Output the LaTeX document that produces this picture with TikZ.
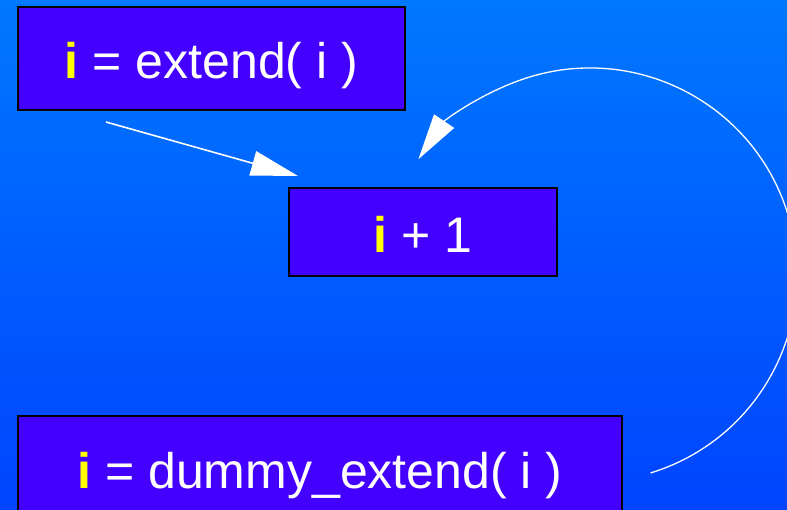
\documentclass[tikz,border=0pt]{standalone}
\usepackage{fontspec}
\setmainfont{Liberation Sans}
\usetikzlibrary{arrows.meta,calc}
\definecolor{bgtop}{RGB}{0,120,255}
\definecolor{bgbot}{RGB}{0,68,255}
\definecolor{boxfill}{RGB}{68,0,255}
\definecolor{ivar}{RGB}{255,255,0}
\newcommand{\ivar}{\textcolor{ivar}{\bfseries i}}
\tikzset{
  codebox/.style={draw=black, line width=1.5pt, fill=boxfill, text=white, inner sep=0pt,
    text height=40pt, text depth=0pt,
    font=\fontsize{50}{58}\selectfont},
  flow/.style={draw=white, line width=1.6pt, -{Triangle[length=47pt,width=25pt]}},
  loopflow/.style={draw=white, line width=1.3pt, -{Triangle[length=46pt,width=24pt]}}
}
\begin{document}
\begin{tikzpicture}[x=1pt,y=1pt]
\useasboundingbox (0,0) rectangle (787,-509);
\clip (0,0) rectangle (787,-509);
\shade[top color=bgtop, bottom color=bgbot] (0,0) rectangle (787,-509);

\node[codebox, minimum width=387pt, minimum height=103pt] (ext) at (211.5,-58.5) {\ivar\ = extend( i )};
\node[codebox, minimum width=268pt, minimum height=88pt] (inc) at (423,-232) {\ivar\ + 1};
\node[codebox, minimum width=604pt, minimum height=104pt] (dum) at (320,-468) {\ivar\ = dummy\_extend( i )};

\coordinate (a1) at (106,-122);
\coordinate (a1end) at (298,-176);
\draw[flow] (a1) -- (a1end);

\coordinate (loopc) at (590,-275);
\coordinate (loopstart) at ($(loopc)+(-73:207)$);
\draw[loopflow] (loopstart) arc[start angle=-73, end angle=146, radius=207];
\end{tikzpicture}
\end{document}
